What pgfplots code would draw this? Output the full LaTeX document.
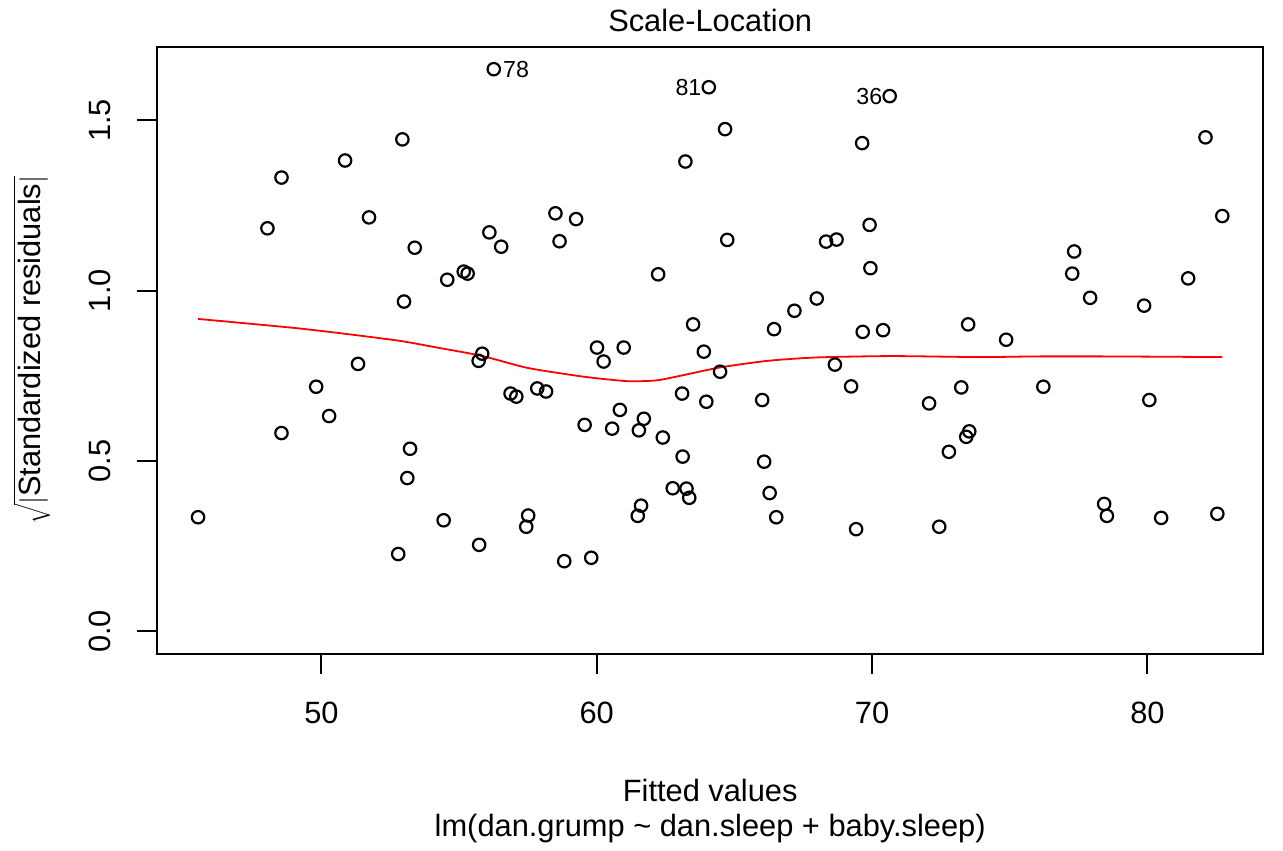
\documentclass[border=0pt]{standalone}
\usepackage{fontspec}
\setmainfont{Liberation Sans}
\usepackage{pgfplots}
\pgfplotsset{compat=1.18}
\begin{document}
\begin{tikzpicture}[font=\fontsize{15.4pt}{18pt}\selectfont]
\begin{axis}[
    at={(0,0)}, anchor=south west,
    scale only axis,
    width=553pt, height=303.5pt,
    xmin=44.03, xmax=84.21,
    ymin=-0.066, ymax=1.716,
    axis line style={line width=1pt},
    clip=false,
    xtick={50,60,70,80},
    xticklabels={50,60,70,80},
    ytick={0,0.5,1,1.5},
    yticklabels={0.0,0.5,1.0,1.5},
    xtick pos=bottom, ytick pos=left,
    tick align=outside,
    major tick length=10pt,
    tick style={line width=1pt, black},
    xticklabel style={anchor=center, yshift=-19.5pt},
    yticklabel style={xshift=-18.5pt, rotate=90, anchor=center},
    ]
% sqrt(|standardized residuals|) against fitted values
\addplot[only marks, mark=o, mark size=3.1pt, mark options={line width=1.1pt, black}]
coordinates {
(45.52,0.335) (48.04,1.183) (48.55,1.332) (48.55,0.582) (49.81,0.718)
(50.28,0.632) (50.86,1.382) (51.33,0.785) (51.73,1.215) (52.79,0.227)
(52.94,1.444) (53.00,0.968) (53.12,0.450) (53.22,0.536) (53.39,1.126)
(54.44,0.326) (54.57,1.032) (55.17,1.056) (55.31,1.050) (55.73,0.254)
(55.71,0.794) (55.84,0.815) (56.10,1.171) (56.26,1.650) (56.53,1.129)
(56.87,0.698) (57.08,0.689) (57.44,0.307) (57.51,0.340) (57.84,0.713)
(58.16,0.704) (58.50,1.227) (58.65,1.145) (58.82,0.206) (59.25,1.210)
(59.56,0.606) (59.80,0.216) (60.01,0.833) (60.25,0.792) (60.56,0.595)
(60.84,0.650) (60.98,0.833) (61.49,0.339) (61.61,0.369) (61.53,0.590)
(61.71,0.624) (62.23,1.048) (62.40,0.569) (62.76,0.420) (63.10,0.698)
(63.12,0.513) (63.22,1.379) (63.26,0.419) (63.36,0.392) (63.50,0.901)
(63.89,0.821) (63.98,0.674) (64.07,1.597) (64.48,0.762) (64.66,1.474)
(64.74,1.149) (66.01,0.679) (66.08,0.498) (66.28,0.406) (66.52,0.335)
(66.44,0.887) (67.18,0.941) (67.99,0.977) (68.33,1.144) (68.71,1.150)
(68.65,0.783) (69.24,0.719) (69.42,0.300) (69.64,1.433) (69.66,0.879)
(69.91,1.193) (69.94,1.066) (70.40,0.884) (70.64,1.571) (72.07,0.669)
(72.44,0.307) (72.79,0.527) (73.24,0.716) (73.42,0.571) (73.53,0.587)
(73.49,0.901) (74.87,0.856) (76.22,0.718) (77.27,1.050) (77.34,1.115)
(77.92,0.979) (78.43,0.374) (78.53,0.339) (79.88,0.956) (80.07,0.679)
(80.50,0.333) (81.48,1.036) (82.11,1.450) (82.54,0.345) (82.72,1.219)
};
% smoothed trend
\addplot[red, line width=0.9pt, smooth, tension=0.4] coordinates {
(45.52,0.917) (47.4,0.903) (49.2,0.889) (51.0,0.872) (52.9,0.852)
(54.2,0.833) (55.8,0.809) (57.5,0.773) (59.3,0.750) (60.1,0.742)
(61.2,0.734) (62.2,0.737) (63.2,0.753) (64.5,0.775) (66.2,0.794)
(68.0,0.804) (70.7,0.808) (73.9,0.805) (76.0,0.807) (78.5,0.807)
(82.72,0.805)
};
\node[anchor=west, inner sep=0pt, xshift=4.5pt, font=\fontsize{11.6pt}{14pt}\selectfont] at (axis cs:56.26,1.650) {78};
\node[anchor=east, inner sep=0pt, xshift=-3.5pt, font=\fontsize{11.6pt}{14pt}\selectfont] at (axis cs:64.07,1.597) {81};
\node[anchor=east, inner sep=0pt, xshift=-3.5pt, font=\fontsize{11.6pt}{14pt}\selectfont] at (axis cs:70.64,1.571) {36};
\node[inner sep=0pt, yshift=13.35pt] at (rel axis cs:0.5,1) {Scale-Location};
\node[inner sep=0pt, yshift=-68.15pt] at (rel axis cs:0.5,0) {Fitted values};
\node[inner sep=0pt, yshift=-87.15pt] at (rel axis cs:0.5,0) {lm(dan.grump \textasciitilde{} dan.sleep + baby.sleep)};
\node[inner sep=0pt, xshift=-62.5pt, rotate=90] at (rel axis cs:0,0.5) {$\sqrt{|\mbox{Standardized residuals}|}$};
\end{axis}
\pgfresetboundingbox
\path[use as bounding box] (-78.5pt,-98.15pt) rectangle (562.85pt,326.85pt);
\end{tikzpicture}
\end{document}
